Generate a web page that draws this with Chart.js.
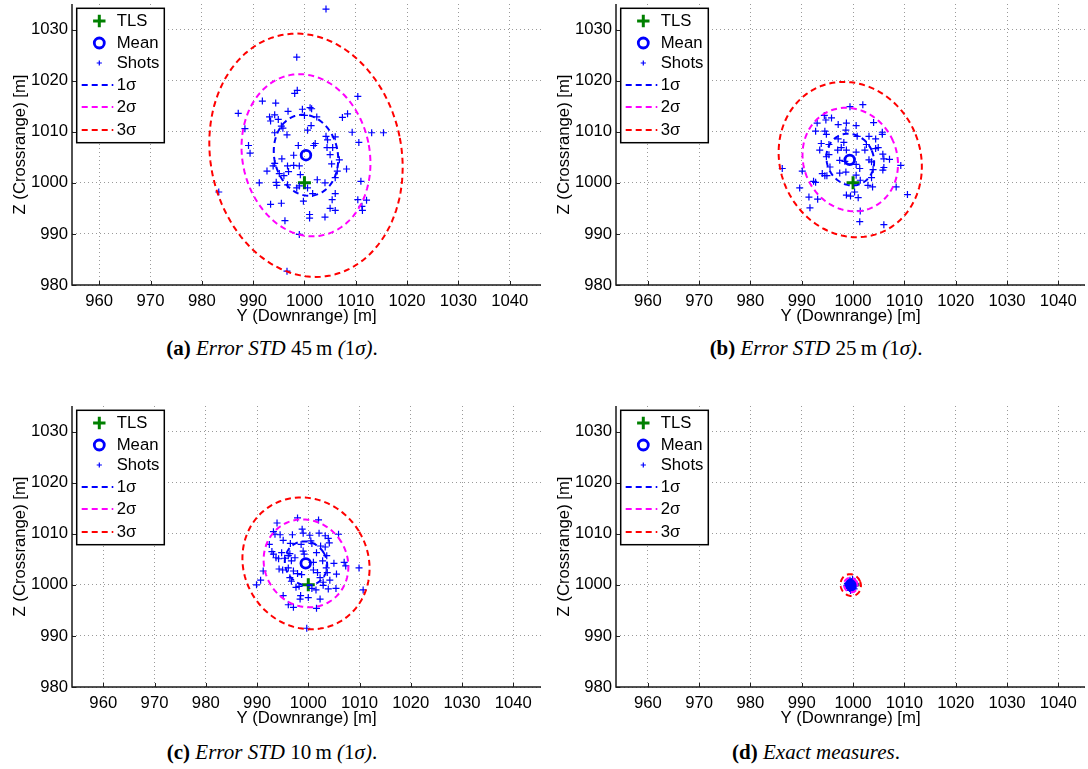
<!DOCTYPE html>
<html><head><meta charset="utf-8">
<script src="https://cdn.jsdelivr.net/npm/chart.js@4.4.0/dist/chart.umd.min.js"></script>
<style>
html,body{margin:0;padding:0;background:#fff;}
body{width:1088px;height:769px;position:relative;overflow:hidden;}
.panel{position:absolute;width:544px;height:330px;}
.cap{position:absolute;width:544px;text-align:center;font-family:"Liberation Serif","Times New Roman",serif;font-size:21px;color:#000;line-height:24px;white-space:nowrap;}
</style></head><body>
<div class="panel" style="left:0;top:0"><canvas id="ca" width="544" height="330"></canvas></div>
<div class="panel" style="left:544px;top:0"><canvas id="cb" width="544" height="330"></canvas></div>
<div class="panel" style="left:0;top:402px"><canvas id="cc" width="544" height="330"></canvas></div>
<div class="panel" style="left:544px;top:402px"><canvas id="cd" width="544" height="330"></canvas></div>
<div class="cap" style="left:0;top:336px"><b>(a)</b> <i>Error STD</i> 45&#8201;m <i>(</i>1<i>σ)</i>.</div>
<div class="cap" style="left:544px;top:336px"><b>(b)</b> <i>Error STD</i> 25&#8201;m <i>(</i>1<i>σ)</i>.</div>
<div class="cap" style="left:0;top:740px"><b>(c)</b> <i>Error STD</i> 10&#8201;m <i>(</i>1<i>σ)</i>.</div>
<div class="cap" style="left:544px;top:740px"><b>(d)</b> <i>Exact measures</i>.</div>
<script>
// ---------- DATA ----------
const legendLabels = ['TLS', 'Mean', 'Shots', '1σ', '2σ', '3σ'];
const xAxisTitle = 'Y (Downrange) [m]';
const yAxisTitle = 'Z (Crossrange) [m]';
const tickStep = 10;
const yRange = [980, 1035];
const xRangeA = [954.7, 1046.1];
const xRangeB = [953.8, 1045.2];
const xRangeC = [953.9, 1045.4];
const xRangeD = [953.8, 1045.2];

const tlsPoint = [1000, 1000];

const meanA = [1000.3, 1005.4];
const meanB = [999.35, 1004.5];
const meanC = [999.5, 1004.2];
const meanD = [999.6, 1000.0];

// ellipse: [centerDown, centerCross, sigmaMajor, sigmaMinor, tilt(rad)]
const ellipseA = [1000.3, 1005.4, 8.0, 6.2, 0.2];
const ellipseB = [999.45, 1004.55, 5.16, 4.55, 0.41];
const ellipseC = [999.55, 1004.2, 4.4, 4.03, 0.55];
const ellipseD = [999.55, 999.95, 0.72, 0.65, 0.4];

const shotsDownA = [1004.2,998.5,998.6,998.1,1010.4,991.8,994.4,987.1,996.8,999.6,1001.1,1001.4,1000.0,993.2,994.2,993.4,994.9,1007.4,1008.4,1002.4,995.5,995.8,1001.3,1000.6,988.4,994.2,996.6,1009.3,1013.1,1015.4,1004.2,1006.0,1004.5,1010.6,1002.1,1001.8,998.8,989.1,989.4,1004.4,1005.5,1005.0,997.9,995.6,1006.8,1005.3,994.2,993.9,996.7,997.9,999.0,1008.2,1006.4,992.7,995.1,996.0,996.9,999.2,1006.0,1002.5,1011.0,991.2,994.5,994.6,996.7,1004.0,998.5,999.0,1000.6,1001.6,983.3,1006.0,1010.4,1012.1,1011.2,1011.3,1005.4,999.8,993.4,995.5,1005.0,1006.0,1001.0,1001.0,1004.0,996.2,999.0,996.6];
const shotsCrossA = [1034.0,1024.6,1018.1,1017.5,1016.9,1016.0,1015.6,1013.6,1014.0,1014.4,1014.7,1014.5,1013.2,1012.9,1013.3,1012.1,1012.4,1012.8,1013.5,1012.9,1011.1,1010.7,1011.2,1010.3,1010.6,1009.8,1009.4,1009.9,1009.8,1009.8,1009.1,1009.0,1008.4,1007.9,1007.7,1007.3,1007.3,1007.3,1005.8,1006.9,1006.9,1005.5,1005.4,1004.7,1004.5,1003.7,1003.8,1003.3,1003.3,1003.4,1003.3,1002.7,1002.3,1002.3,1001.8,1001.4,1002.2,1001.6,1001.0,1000.6,1000.3,1000.0,1000.1,999.5,999.6,1000.0,999.0,999.4,999.0,997.9,998.2,997.9,996.7,996.6,995.4,994.6,996.7,996.4,995.8,996.0,995.0,994.6,993.8,993.1,993.3,992.6,989.9,982.7];

const shotsDownB = [1001.9,999.4,994.4,995.8,994.7,993.0,997.1,998.7,1004.0,1000.6,992.7,994.5,994.8,998.6,1005.7,1005.7,1004.4,1003.1,1000.8,997.1,995.3,993.8,998.2,997.7,1002.6,1002.3,993.5,997.0,998.7,1000.6,1004.4,1004.9,995.3,994.8,1005.8,1006.0,1007.1,1009.3,1003.1,1003.6,997.4,998.4,986.2,995.5,994.9,1006.0,1005.8,1000.6,1001.3,997.4,998.6,994.0,994.5,1003.9,1003.6,990.1,992.3,992.7,1002.9,1003.8,989.6,991.4,993.1,998.7,999.5,1001.0,1000.3,1010.6,991.6,1001.4,1001.3,1006.0,1008.4,1001.4,1000.6];
const shotsCrossB = [1015.3,1014.9,1013.2,1012.7,1012.3,1011.7,1011.4,1011.7,1011.8,1011.2,1010.1,1010.1,1009.5,1010.3,1009.9,1009.5,1008.6,1009.1,1009.1,1008.6,1007.5,1007.7,1007.9,1006.9,1007.5,1006.4,1006.4,1006.4,1006.4,1006.0,1006.7,1006.9,1005.5,1005.1,1005.6,1004.7,1004.6,1003.4,1004.5,1004.1,1004.4,1004.2,1002.8,1003.1,1001.4,1003.0,1002.5,1003.6,1002.8,1001.9,1002.1,1001.8,1001.4,1002.6,1001.0,1002.3,1000.3,1000.1,999.5,999.2,999.0,997.2,996.8,997.6,997.4,997.1,998.2,997.7,995.1,994.5,992.4,991.8,999.2,1000.5,1001.5];

const shotsDownC = [997.9,1002.0,993.9,993.2,993.5,998.8,999.0,994.5,996.9,1000.3,1002.1,1003.3,1003.9,1005.9,995.1,992.4,996.5,1000.5,1000.7,1004.1,998.6,1002.4,1003.3,992.9,993.2,994.8,996.4,996.1,999.0,999.2,1001.6,1003.6,994.2,993.7,995.4,996.7,997.4,1001.0,1002.8,1005.0,1007.0,1007.3,991.2,994.3,995.0,996.1,997.1,997.9,1001.0,1001.8,1003.5,1003.7,1005.5,1009.9,990.7,989.9,996.4,996.7,998.7,1002.3,1002.9,1004.2,997.6,998.2,1000.7,1001.5,1003.9,1005.4,1002.9,1010.7,995.1,998.5,998.4,1000.0,1002.3,996.1,997.1,1001.6,999.7];
const shotsCrossC = [1013.1,1012.7,1012.1,1010.4,1009.9,1010.9,1010.1,1009.8,1009.8,1009.7,1010.1,1009.6,1009.1,1009.9,1008.7,1007.9,1008.1,1008.6,1008.1,1008.2,1007.9,1007.6,1007.4,1006.5,1006.0,1006.3,1006.1,1005.7,1006.6,1006.0,1006.3,1005.7,1005.1,1005.3,1005.2,1004.7,1005.3,1004.4,1004.7,1004.2,1004.4,1003.7,1002.7,1003.1,1002.9,1003.3,1002.7,1002.2,1002.9,1002.4,1003.3,1002.4,1002.1,1003.3,1000.9,1000.0,1001.4,1000.7,1002.0,1001.4,1000.5,1000.9,999.5,999.7,999.3,999.0,999.2,999.3,999.9,999.0,997.9,997.9,997.2,997.5,997.2,996.1,995.6,995.4,991.5];

const shotsDownD = [999.2,999.8,1000.1,999.5,999.9,999.1,999.6,1000.3,999.3,999.8,1000.2,998.9,999.4,1000.0,999.7,999.0,1000.4,999.5,999.9,999.2,999.7,1000.1,998.8,999.4,1000.2];
const shotsCrossD = [1000.4,1000.6,1000.2,999.7,999.5,999.9,1000.1,999.8,999.3,999.1,1000.7,1000.3,1000.9,999.4,1000.3,999.6,1000.3,998.9,1001.1,1000.0,999.6,999.9,999.9,999.5,999.2];

// ---------- HELPERS ----------
function toPoints(xs, ys){ return xs.map((x,i)=>({x:x, y:ys[i]})); }
function ellipsePoints(p, k){
  const [cx, cy, major, minor, phi] = p;
  const pts = [];
  const N = 120;
  for (let i = 0; i <= N; i++){
    const t = 2*Math.PI*i/N;
    const u = k*minor*Math.cos(t), v = k*major*Math.sin(t);
    pts.push({x: cx + u*Math.cos(phi) - v*Math.sin(phi), y: cy + u*Math.sin(phi) + v*Math.cos(phi)});
  }
  return pts;
}

const FONT = '"Liberation Sans", Arial, Helvetica, sans-serif';
const FSIZE = 16.7;

const axesPlugin = {
  id: 'matlabAxes',
  beforeDatasetsDraw(chart){
    const {ctx, chartArea:a, scales:{x, y}} = chart;
    ctx.save();
    ctx.strokeStyle = '#222'; ctx.lineWidth = 1;
    x.ticks.forEach(t => {
      const px = Math.round(x.getPixelForValue(t.value)) + 0.5;
      ctx.beginPath(); ctx.moveTo(px, a.bottom); ctx.lineTo(px, a.bottom - 4); ctx.stroke();
    });
    y.ticks.forEach(t => {
      const py = Math.round(y.getPixelForValue(t.value)) + 0.5;
      ctx.beginPath(); ctx.moveTo(a.left, py); ctx.lineTo(a.left + 4, py); ctx.stroke();
    });
    ctx.restore();
  },
  afterDatasetsDraw(chart){
    const {ctx, chartArea:a} = chart;
    ctx.save();
    ctx.strokeStyle = '#1a1a1a'; ctx.lineWidth = 1.5;
    ctx.beginPath();
    ctx.moveTo(a.left, a.top); ctx.lineTo(a.left, a.bottom); ctx.lineTo(a.right, a.bottom);
    ctx.stroke();
    // legend box
    const bx = a.left + 4.7, by = a.top + 4.3, bw = 87.6, bh = 134.4;
    ctx.fillStyle = '#fff'; ctx.fillRect(bx, by, bw, bh);
    ctx.lineWidth = 1.5; ctx.strokeStyle = '#000'; ctx.strokeRect(bx, by, bw, bh);
    const rows = [12.7, 34.7, 54.7, 76.7, 98.7, 121.7];
    chart.data.datasets.forEach((ds, i) => {
      const ry = by + rows[i];
      ctx.save();
      if (ds.showLine){
        ctx.setLineDash(ds.borderDash); ctx.strokeStyle = ds.borderColor; ctx.lineWidth = ds.borderWidth;
        ctx.beginPath(); ctx.moveTo(bx + 5, ry); ctx.lineTo(bx + 36.6, ry); ctx.stroke();
      } else {
        ctx.strokeStyle = ds.borderColor; ctx.fillStyle = ds.backgroundColor; ctx.lineWidth = ds.borderWidth;
        Chart.helpers.drawPoint(ctx, {pointStyle: ds.pointStyle, radius: ds.legendRadius, borderWidth: ds.borderWidth, rotation: 0}, bx + 22.6, ry);
      }
      ctx.restore();
      ctx.fillStyle = '#000'; ctx.font = FSIZE + 'px ' + FONT; ctx.textBaseline = 'middle'; ctx.textAlign = 'left';
      ctx.fillText(ds.label, bx + 40, ry + 0.5);
    });
    ctx.restore();
  }
};

function noPad(s){ s.paddingTop = 0; s.paddingBottom = 0; s.paddingLeft = 0; s.paddingRight = 0; }

function makeChart(id, xRange, mean, ell, sx, sy){
  const datasets = [
    {label: legendLabels[0], data: [{x: tlsPoint[0], y: tlsPoint[1]}], pointStyle: 'cross', pointRadius: 6.5, legendRadius: 6.2,
     borderColor: '#008000', backgroundColor: '#008000', borderWidth: 3, order: 6},
    {label: legendLabels[1], data: [{x: mean[0], y: mean[1]}], pointStyle: 'circle', pointRadius: 4.8, legendRadius: 5,
     borderColor: '#0000ff', backgroundColor: 'rgba(0,0,0,0)', borderWidth: 2.8, order: 5},
    {label: legendLabels[2], data: toPoints(sx, sy), pointStyle: 'cross', pointRadius: 3.5, legendRadius: 2.6,
     borderColor: '#0000ff', backgroundColor: '#0000ff', borderWidth: 1.2, order: 4},
    {label: legendLabels[3], data: ellipsePoints(ell, 1), showLine: true, pointRadius: 0, borderColor: '#0000ff', borderWidth: 2, borderDash: [6,4], fill: false, tension: 0, order: 3},
    {label: legendLabels[4], data: ellipsePoints(ell, 2), showLine: true, pointRadius: 0, borderColor: '#ff00ff', borderWidth: 2, borderDash: [6,4], fill: false, tension: 0, order: 2},
    {label: legendLabels[5], data: ellipsePoints(ell, 3), showLine: true, pointRadius: 0, borderColor: '#ff0000', borderWidth: 2, borderDash: [6,4], fill: false, tension: 0, order: 1}
  ];
  return new Chart(document.getElementById(id), {
    type: 'scatter',
    data: {datasets},
    options: {
      responsive: false, animation: false, devicePixelRatio: 1,
      layout: {padding: {top: 4, right: 3, left: 0, bottom: 0}, autoPadding: false},
      plugins: {legend: {display: false}, tooltip: {enabled: false}},
      elements: {point: {hoverRadius: 0}},
      scales: {
        x: {type: 'linear', position: 'bottom', min: xRange[0], max: xRange[1],
          ticks: {stepSize: tickStep, includeBounds: false, autoSkip: false, maxRotation: 0, color: '#000', padding: 6, font: {family: FONT, size: FSIZE},
                  callback: v => String(v)},
          grid: {color: '#9a9a9a', lineWidth: 1, drawTicks: false},
          border: {display: false, dash: [1, 3]},
          title: {display: true, text: xAxisTitle, color: '#000', font: {family: FONT, size: FSIZE}, padding: {top: 0, bottom: 4}},
          afterFit(s){ s.height = 45; noPad(s); }
        },
        y: {type: 'linear', position: 'left', min: yRange[0], max: yRange[1],
          ticks: {stepSize: tickStep, includeBounds: false, autoSkip: false, color: '#000', padding: 4, font: {family: FONT, size: FSIZE},
                  callback: v => String(v)},
          grid: {color: '#9a9a9a', lineWidth: 1, drawTicks: false},
          border: {display: false, dash: [1, 3]},
          title: {display: true, text: yAxisTitle, color: '#000', font: {family: FONT, size: FSIZE}, padding: {top: 10.5, bottom: 0}},
          afterFit(s){ s.width = 72; noPad(s); }
        }
      }
    },
    plugins: [axesPlugin]
  });
}

makeChart('ca', xRangeA, meanA, ellipseA, shotsDownA, shotsCrossA);
makeChart('cb', xRangeB, meanB, ellipseB, shotsDownB, shotsCrossB);
makeChart('cc', xRangeC, meanC, ellipseC, shotsDownC, shotsCrossC);
makeChart('cd', xRangeD, meanD, ellipseD, shotsDownD, shotsCrossD);
</script>
</body></html>
